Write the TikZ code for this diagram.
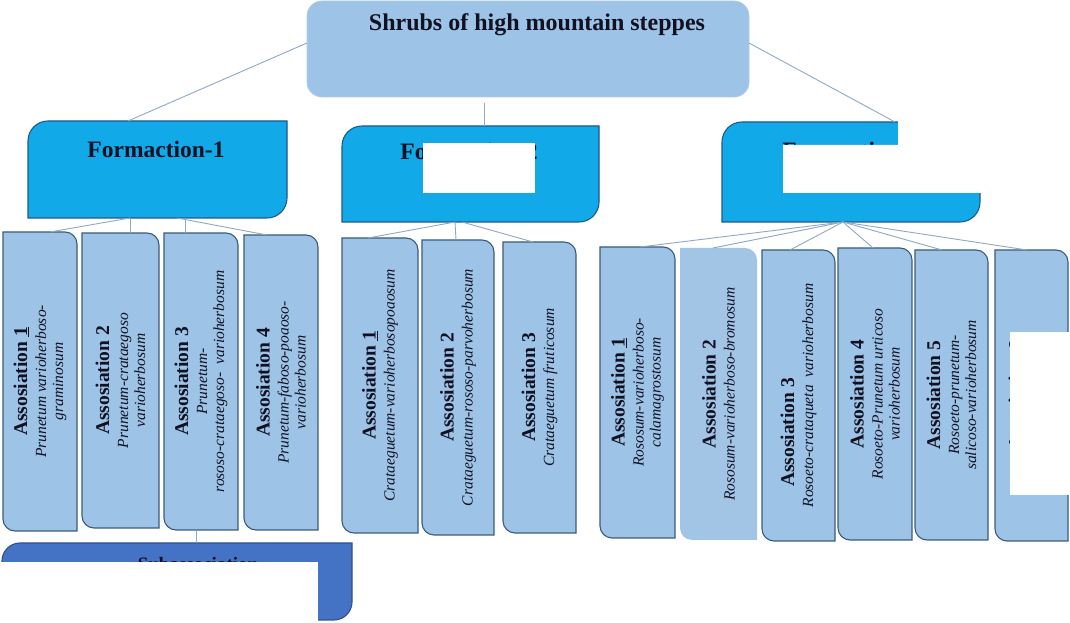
\documentclass[tikz,border=0pt]{standalone}
\usepackage{fontspec}
\setmainfont{Liberation Serif}
\usetikzlibrary{calc}
\definecolor{conncol}{HTML}{8FA9C4}
\definecolor{assocfill}{HTML}{9DC3E6}
\definecolor{assocfilltwo}{HTML}{A2C5E6}
\definecolor{assocline}{HTML}{3B5B7C}
\definecolor{formfill}{HTML}{12A9E8}
\definecolor{formline}{HTML}{1E5A8A}
\definecolor{topfill}{HTML}{9DC3E6}
\definecolor{topline}{HTML}{B3CCE6}
\definecolor{subfill}{HTML}{4472C4}
\definecolor{subline}{HTML}{2F528F}
\definecolor{txt}{HTML}{111122}
\newcommand\ab[1]{{\fontsize{19.5}{17}\selectfont\bfseries\upshape #1}}
\newcommand\mkassoc[6]{%
  \node[geom,minimum width=#4pt,minimum height=#5pt] (#1) at (#2,#3) {};
  \path[#6] (#1.north west) -- ([xshift=-12pt]#1.north east) arc[start angle=90,end angle=0,radius=12pt] -- (#1.south east) -- ([xshift=12pt]#1.south west) arc[start angle=270,end angle=180,radius=12pt] -- cycle;}
\newcommand\mkform[7]{%
  \node[geom,minimum width=#4pt,minimum height=#5pt] (#1) at (#2,#3) {};
  \path[#6] (#1.north east) -- ([yshift=#7]#1.south east) arc[start angle=0,end angle=-90,radius=#7] -- (#1.south west) -- ([yshift=-#7]#1.north west) arc[start angle=180,end angle=90,radius=#7] -- cycle;}
\begin{document}
\begin{tikzpicture}[x=1pt,y=1pt,
  geom/.style={inner sep=0pt,outer sep=0pt},
  conn/.style={draw=conncol,line width=0.9pt},
  assocshape/.style={fill=assocfill,draw=assocline,line width=1.1pt},
  assocnoline/.style={fill=assocfilltwo},
  formshape/.style={fill=formfill,draw=formline,line width=1.1pt},
  subshape/.style={fill=subfill,draw=subline,line width=1.1pt},
  topshape/.style={fill=topfill,draw=topline,line width=0.8pt,rounded corners=15pt},
  ttext/.style={inner sep=0pt,text=txt,font=\fontsize{24}{28}\selectfont\bfseries},
  ftext/.style={inner sep=0pt,text=txt,font=\fontsize{23.5}{28}\selectfont\bfseries},
  stext/.style={inner sep=0pt,text=txt,font=\fontsize{19}{22}\selectfont\bfseries},
  atext/.style={inner sep=0pt,text=txt,rotate=90,align=center,font=\fontsize{15.5}{17}\selectfont\itshape},
]
\useasboundingbox (0,0) rectangle (1070,623);
\fill[white] (0,0) rectangle (1070,623);

% top box
\node[geom,minimum width=442pt,minimum height=96pt] (T) at (528,574) {};
\path[topshape] (T.south west) rectangle (T.north east);

% formations
\mkform{F1}{157.5}{453.5}{259}{97}{formshape}{20pt}
\mkform{F2}{470.5}{449}{257}{96}{formshape}{20pt}
\mkform{F3}{851}{451}{258}{100}{formshape}{20pt}

% associations
\mkassoc{A1}{40}{241.5}{74}{299}{assocshape}
\mkassoc{A2}{120.5}{242.5}{77}{295}{assocshape}
\mkassoc{A3}{201}{241.5}{74}{297}{assocshape}
\mkassoc{A4}{281}{240.5}{74}{295}{assocshape}
\mkassoc{B1}{380}{237.5}{76}{295}{assocshape}
\mkassoc{B2}{458}{235.5}{72}{295}{assocshape}
\mkassoc{B3}{539.5}{235.5}{73}{291}{assocshape}
\mkassoc{C1}{637.5}{230.5}{75}{291}{assocshape}
\mkassoc{C2}{718.5}{229}{77}{292}{assocnoline}
\mkassoc{C3}{798.5}{227.5}{73}{291}{assocshape}
\mkassoc{C4}{875}{229}{74}{292}{assocshape}
\mkassoc{C5}{951.5}{228}{73}{290}{assocshape}
\mkassoc{C6}{1031.5}{227.5}{73}{291}{assocshape}

% subassociation
\mkform{Sub}{177}{41.5}{350}{77}{subshape}{18pt}

% connectors
\draw[conn] ([yshift=6pt]T.west) -- ([xshift=-29.5pt]F1.north);
\draw[conn] ([xshift=-44pt,yshift=-6pt]T.south) -- ([xshift=13.5pt]F2.north);
\draw[conn] ([yshift=6pt]T.east) -- ([xshift=44pt]F3.north);

\draw[conn] ([xshift=-27.5pt]F1.south) -- ([xshift=10pt]A1.north);
\draw[conn] ([xshift=-27.5pt]F1.south) -- ([xshift=9.5pt]A2.north);
\draw[conn] ([xshift=27.5pt]F1.south) -- ([xshift=-16pt]A3.north);
\draw[conn] ([xshift=19.5pt]F1.south) -- ([xshift=-14pt]A4.north);

\draw[conn] ([xshift=-15.5pt]F2.south) -- ([xshift=-12pt]B1.north);
\draw[conn] ([xshift=-15.5pt]F2.south) -- ([xshift=-2pt]B2.north);
\draw[conn] ([xshift=-8.5pt]F2.south) -- ([xshift=-6.5pt]B3.north);

\draw[conn] ([xshift=-8pt]F3.south) -- ([xshift=2.5pt]C1.north);
\draw[conn] ([xshift=-8pt]F3.south) -- ([xshift=-5.5pt]C2.north);
\draw[conn] ([xshift=-8pt]F3.south) -- ([xshift=-8.5pt]C3.north);
\draw[conn] ([xshift=-8pt]F3.south) -- ([xshift=-2pt]C4.north);
\draw[conn] ([xshift=-8pt]F3.south) -- ([xshift=-9.5pt]C5.north);
\draw[conn] ([xshift=-8pt]F3.south) -- ([xshift=-4.5pt]C6.north);

\draw[conn] ([xshift=-5pt]A3.south) -- ([xshift=19pt]Sub.north);

% texts
\node[ttext] (Tt) at (537,598) {Shrubs of high mountain steppes};
\node[ftext] (F1t) at (156,474) {Formaction-1};
\node[ftext] (F2t) at (469,472) {Formaction-2};
\node[ftext] (F3t) at (851,473) {Formaction-3};
\node[stext] (Subt) at (198,59) {Subassociation};

\node[atext] (A1t) at (A1.center) {\ab{Assosiation \underline{1}}\\[2pt] Prunetum varioherboso-\\ graminosum};
\node[atext] (A2t) at (A2.center) {\ab{Assosiation 2}\\[2pt] Prunetum-crataegoso\\ varioherbosum};
\node[atext] (A3t) at (A3.center) {\ab{Assosiation 3}\\[2pt] Prunetum-\\ rososo-crataegoso-\ \ varioherbosum};
\node[atext] (A4t) at (A4.center) {\ab{Assosiation 4}\\[2pt] Prunetum-faboso-poaoso-\\ varioherbosum};
\node[atext] (B1t) at (B1.center) {\ab{Assosiation \underline{1}}\\[2pt] Crataeguetum-varioherbosopoaosum};
\node[atext] (B2t) at (B2.center) {\ab{Assosiation 2}\\[2pt] Crataeguetum-rososo-parvoherbosum};
\node[atext] (B3t) at (B3.center) {\ab{Assosiation 3}\\[2pt] Crataeguetum fruticosum};
\node[atext] (C1t) at (C1.center) {\ab{Assosiation \underline{1}}\\[2pt] Rososum-varioherboso-\\ calamagrostosum};
\node[atext] (C2t) at (C2.center) {\ab{Assosiation 2}\\[2pt] Rososum-varioherboso-bromosum};
\node[atext] (C3t) at (C3.center) {\ab{Assosiation 3\hspace*{74pt}}\\[2pt] Rosoeto-crataqueta\ \ varioherbosum};
\node[atext] (C4t) at (C4.center) {\ab{Assosiation 4}\\[2pt] Rosoeto-Prunetum urticoso\\ varioherbosum};
\node[atext] (C5t) at (C5.center) {\ab{Assosiation 5}\\[2pt] Rosoeto-prunetum-\\ salicoso-varioherbosum};
\node[atext] (C6t) at ([xshift=-16pt]C6.center) {\ab{Assosiation 6}};

% white cover patches
\fill[white] (423,430) rectangle (535,480);
\fill[white] (783,430) -- (783,478) -- (898,478) -- (898,511) -- (990,511) -- (990,430) -- cycle;
\fill[white] (1010,128) rectangle (1070,291);
\fill[white] (0,0) rectangle (318,61);
\end{tikzpicture}
\end{document}
